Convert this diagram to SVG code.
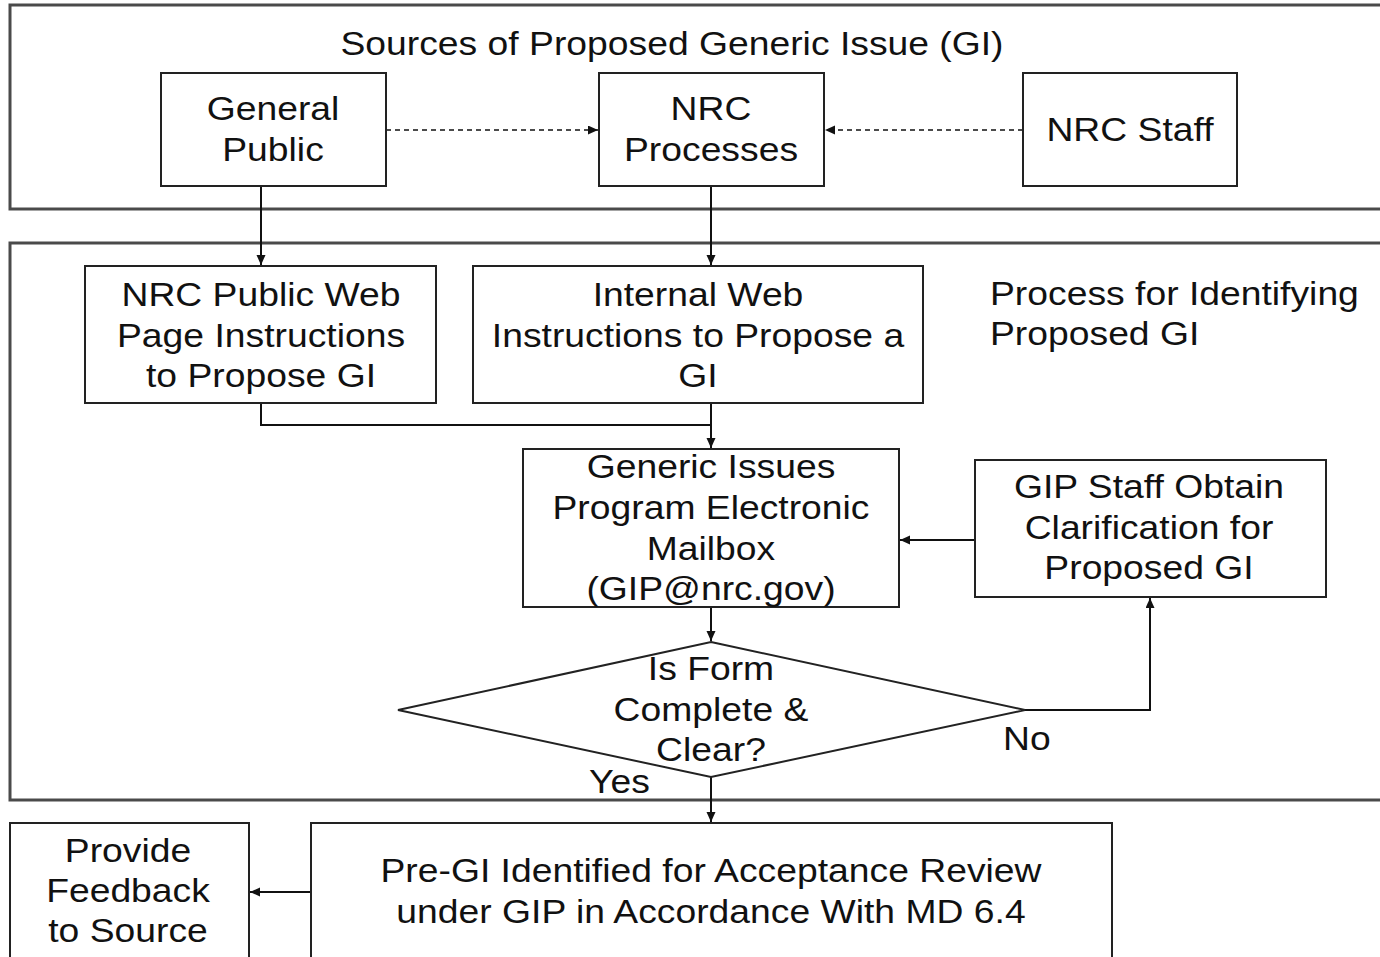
<svg xmlns="http://www.w3.org/2000/svg" width="1380" height="957" viewBox="0 0 1380 957">
<style>
.frame{fill:none;stroke:#4a4a4a;stroke-width:3}
.box{fill:#fff;stroke:#222;stroke-width:2}
.ln{fill:none;stroke:#111;stroke-width:2}
.dash{fill:none;stroke:#111;stroke-width:1.6;stroke-dasharray:5 4}
text{font-family:"Liberation Sans",Arial,sans-serif;font-size:33px;fill:#111}
.c{text-anchor:middle}
</style>
<defs>
<marker id="ah" markerUnits="userSpaceOnUse" markerWidth="11" markerHeight="10" refX="10" refY="4.5" orient="auto">
<path d="M0,0 L10,4.5 L0,9 z" fill="#111"/>
</marker>
</defs>
<rect width="1380" height="957" fill="#fff"/>
<g id="frame-sources">
<rect class="frame" x="10" y="5" width="1390" height="204"/>
<text class="c" transform="translate(672 0) scale(1.13 1)"><tspan x="0" y="55">Sources of Proposed Generic Issue (GI)</tspan></text>
</g>
<g id="frame-process">
<rect class="frame" x="10" y="243" width="1390" height="557"/>
<text transform="translate(990 0) scale(1.13 1)"><tspan x="0" y="305">Process for Identifying</tspan><tspan x="0" y="345">Proposed GI</tspan></text>
</g>
<g id="connectors">
<line class="dash" x1="386" y1="130" x2="598" y2="130" marker-end="url(#ah)"/>
<line class="dash" x1="1023" y1="130" x2="825" y2="130" marker-end="url(#ah)"/>
<line class="ln" x1="261" y1="186" x2="261" y2="265" marker-end="url(#ah)"/>
<line class="ln" x1="711" y1="186" x2="711" y2="265" marker-end="url(#ah)"/>
<polyline class="ln" points="261,403 261,425 711,425"/>
<line class="ln" x1="711" y1="403" x2="711" y2="448" marker-end="url(#ah)"/>
<line class="ln" x1="975" y1="540" x2="900" y2="540" marker-end="url(#ah)"/>
<line class="ln" x1="711" y1="607" x2="711" y2="641" marker-end="url(#ah)"/>
<polyline class="ln" points="1025,710 1150,710 1150,598" marker-end="url(#ah)"/>
<line class="ln" x1="711" y1="777" x2="711" y2="822" marker-end="url(#ah)"/>
<line class="ln" x1="311" y1="892" x2="250" y2="892" marker-end="url(#ah)"/>
</g>
<g id="general-public">
<rect class="box" x="161" y="73" width="225" height="113"/>
<text class="c" transform="translate(273 0) scale(1.13 1)"><tspan x="0" y="120">General</tspan><tspan x="0" y="161">Public</tspan></text>
</g>
<g id="nrc-processes">
<rect class="box" x="599" y="73" width="225" height="113"/>
<text class="c" transform="translate(711 0) scale(1.13 1)"><tspan x="0" y="120">NRC</tspan><tspan x="0" y="161">Processes</tspan></text>
</g>
<g id="nrc-staff">
<rect class="box" x="1023" y="73" width="214" height="113"/>
<text class="c" transform="translate(1130 0) scale(1.13 1)"><tspan x="0" y="141">NRC Staff</tspan></text>
</g>
<g id="public-web">
<rect class="box" x="85" y="266" width="351" height="137"/>
<text class="c" transform="translate(261 0) scale(1.13 1)"><tspan x="0" y="306">NRC Public Web</tspan><tspan x="0" y="347">Page Instructions</tspan><tspan x="0" y="387">to Propose GI</tspan></text>
</g>
<g id="internal-web">
<rect class="box" x="473" y="266" width="450" height="137"/>
<text class="c" transform="translate(698 0) scale(1.13 1)"><tspan x="0" y="306">Internal Web</tspan><tspan x="0" y="347">Instructions to Propose a</tspan><tspan x="0" y="387">GI</tspan></text>
</g>
<g id="mailbox">
<rect class="box" x="523" y="449" width="376" height="158"/>
<text class="c" transform="translate(711 0) scale(1.13 1)"><tspan x="0" y="478">Generic Issues</tspan><tspan x="0" y="519">Program Electronic</tspan><tspan x="0" y="560">Mailbox</tspan><tspan x="0" y="600">(GIP@nrc.gov)</tspan></text>
</g>
<g id="gip-staff">
<rect class="box" x="975" y="460" width="351" height="137"/>
<text class="c" transform="translate(1149 0) scale(1.13 1)"><tspan x="0" y="498">GIP Staff Obtain</tspan><tspan x="0" y="539">Clarification for</tspan><tspan x="0" y="579">Proposed GI</tspan></text>
</g>
<g id="decision">
<polygon class="box" points="711,642 1025,710 711,777 398,710"/>
<text class="c" transform="translate(711 0) scale(1.13 1)"><tspan x="0" y="680">Is Form</tspan><tspan x="0" y="721">Complete &amp;</tspan><tspan x="0" y="761">Clear?</tspan></text>
<text transform="translate(1003 0) scale(1.13 1)"><tspan x="0" y="750">No</tspan></text>
<text transform="translate(589 0) scale(1.13 1)"><tspan x="0" y="793">Yes</tspan></text>
</g>
<g id="pre-gi">
<rect class="box" x="311" y="823" width="801" height="150"/>
<text class="c" transform="translate(711 0) scale(1.13 1)"><tspan x="0" y="882">Pre-GI Identified for Acceptance Review</tspan><tspan x="0" y="923">under GIP in Accordance With MD 6.4</tspan></text>
</g>
<g id="feedback">
<rect class="box" x="10" y="823" width="239" height="150"/>
<text class="c" transform="translate(128 0) scale(1.13 1)"><tspan x="0" y="862">Provide</tspan><tspan x="0" y="902">Feedback</tspan><tspan x="0" y="942">to Source</tspan></text>
</g>
</svg>
